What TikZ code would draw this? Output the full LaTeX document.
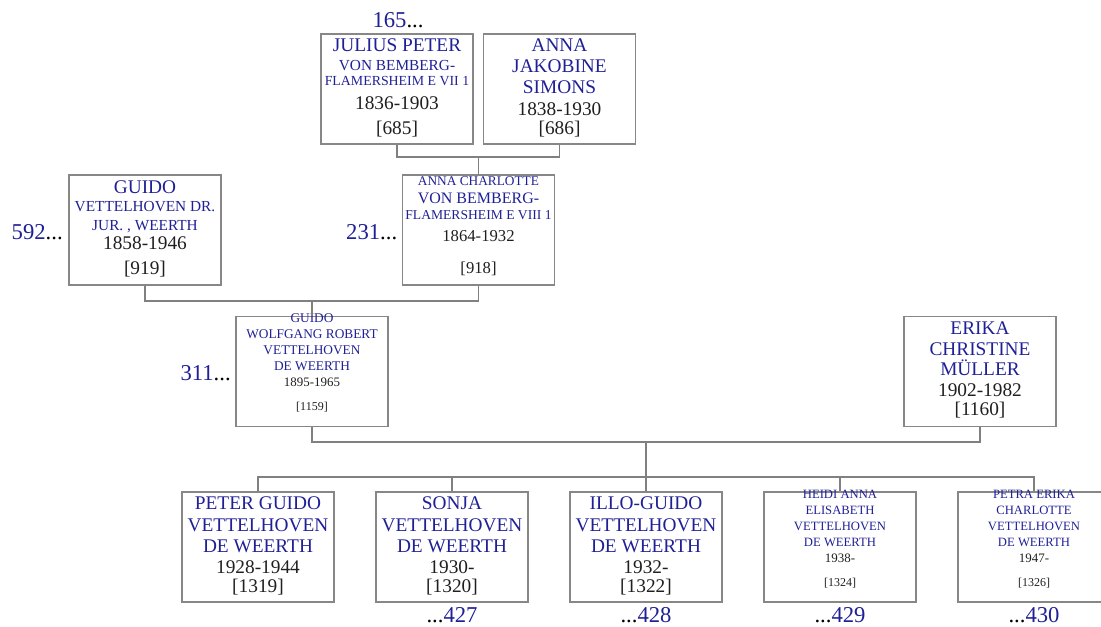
\documentclass[tikz,border=0pt]{standalone}
\usepackage{fontspec}
\setmainfont{Liberation Serif}
\definecolor{nameblue}{RGB}{32,32,150}
\definecolor{linegray}{RGB}{128,128,128}
\definecolor{boxgray}{RGB}{135,135,135}
\newcommand{\pname}[2]{{\color{nameblue}\fontsize{#1}{#1}\selectfont #2}}
\newcommand{\pdate}[2]{{\color{black!88}\fontsize{#1}{#1}\selectfont #2}}
\newcommand{\pnum}[1]{\textcolor{nameblue}{#1}}
\begin{document}
\begin{tikzpicture}[x=0.75pt,y=-0.75pt,
  pbox/.style={draw=boxgray,line width=0.9pt,minimum width=114pt,minimum height=82.5pt,inner sep=0pt},
  ptxt/.style={anchor=north,align=center,inner sep=0pt,font=\fontsize{10}{11.5}\selectfont},
  num/.style={inner sep=0pt,font=\fontsize{17}{17}\selectfont},
  link/.style={draw=linegray,line width=0.9pt}]
\path[use as bounding box,clip] (0,0) rectangle (1101,627);
% generation 1
\node[pbox] (jul) at (397,89) {};
\node[ptxt] (jul-t) at (397,38.6) {\pname{14.5}{JULIUS PETER}\\[2.5pt]
  \pname{11.5}{VON BEMBERG-}\\[0.2pt] \pname{10.4}{FLAMERSHEIM E VII 1}\\[6.4pt]
  \pdate{14.5}{1836-1903}\\[7.2pt] \pdate{14.5}{[685]}};
\node[pbox] (aj) at (559.5,89) {};
\node[ptxt] (aj-t) at (559.5,38.6) {\pname{14.5}{ANNA}\\[4.25pt] \pname{14.5}{JAKOBINE}\\[4.25pt]
  \pname{14.5}{SIMONS}\\[5.1pt] \pdate{14.5}{1838-1930}\\[2.75pt] \pdate{14.5}{[686]}};
\node[num,anchor=base] (n165) at (398,28) {\pnum{165}...};
% generation 2
\node[pbox] (gui) at (145,230) {};
\node[ptxt] (gui-t) at (145,180.6) {\pname{14.5}{GUIDO}\\[1.8pt] \pname{11.5}{VETTELHOVEN DR.}\\[2.75pt]
  \pname{11.5}{JUR. , WEERTH}\\[2.9pt] \pdate{14.5}{1858-1946}\\[7.25pt] \pdate{14.5}{[919]}};
\node[pbox] (ac) at (478.5,230) {};
\node[ptxt] (ac-t) at (478.5,176.6) {\pname{10}{ANNA CHARLOTTE}\\[1.9pt] \pname{12}{VON BEMBERG-}\\[0.7pt]
  \pname{10.2}{FLAMERSHEIM E VIII 1}\\[5.1pt] \pdate{12.5}{1864-1932}\\[12.5pt] \pdate{12.5}{[918]}};
\node[num,anchor=base east] (n592) at (63,240) {\pnum{592}...};
\node[num,anchor=base east] (n231) at (397.5,240) {\pnum{231}...};
% generation 3
\node[pbox] (gw) at (312,371.5) {};
\node[ptxt] (gw-t) at (312,313.6) {\pname{10}{GUIDO}\\[0.5pt] \pname{10}{WOLFGANG ROBERT}\\[0.5pt]
  \pname{10}{VETTELHOVEN}\\[0.5pt] \pname{10}{DE WEERTH}\\[0.5pt] \pdate{9.7}{1895-1965}\\[6.3pt] \pdate{9}{[1159]}};
\node[pbox] (eri) at (980,371.5) {};
\node[ptxt] (eri-t) at (980,321.6) {\pname{14.5}{ERIKA}\\[4.25pt] \pname{14.5}{CHRISTINE}\\[2.25pt]
  \pname{14.5}{MÜLLER}\\[4.3pt] \pdate{14.5}{1902-1982}\\[2.75pt] \pdate{14.5}{[1160]}};
\node[num,anchor=base east] (n311) at (231,380.7) {\pnum{311}...};
% children
\node[pbox] (pet) at (258,547) {};
\node[ptxt] (pet-t) at (258,496.6) {\pname{14.5}{PETER GUIDO}\\[5pt] \pname{14.5}{VETTELHOVEN}\\[4.25pt]
  \pname{14.5}{DE WEERTH}\\[4.3pt] \pdate{14.5}{1928-1944}\\[2.75pt] \pdate{14.5}{[1319]}};
\node[pbox] (son) at (452,547) {};
\node[ptxt] (son-t) at (452,496.6) {\pname{14.5}{SONJA}\\[5pt] \pname{14.5}{VETTELHOVEN}\\[4.25pt]
  \pname{14.5}{DE WEERTH}\\[4.3pt] \pdate{14.5}{1930-}\\[2.75pt] \pdate{14.5}{[1320]}};
\node[pbox] (ill) at (646,547) {};
\node[ptxt] (ill-t) at (646,496.6) {\pname{14.5}{ILLO-GUIDO}\\[5pt] \pname{14.5}{VETTELHOVEN}\\[4.25pt]
  \pname{14.5}{DE WEERTH}\\[4.3pt] \pdate{14.5}{1932-}\\[2.75pt] \pdate{14.5}{[1322]}};
\node[pbox] (hei) at (840,547) {};
\node[ptxt] (hei-t) at (840,489.8) {\pname{9.5}{HEIDI ANNA}\\[0.5pt] \pname{9.5}{ELISABETH}\\[0.5pt]
  \pname{9.5}{VETTELHOVEN}\\[0.5pt] \pname{9.5}{DE WEERTH}\\[0.6pt] \pdate{9.7}{1938-}\\[6.3pt] \pdate{9}{[1324]}};
\node[pbox] (ptr) at (1034,547) {};
\node[ptxt] (ptr-t) at (1034,489.8) {\pname{9.5}{PETRA ERIKA}\\[0.5pt] \pname{9.5}{CHARLOTTE}\\[0.5pt]
  \pname{9.5}{VETTELHOVEN}\\[0.5pt] \pname{9.5}{DE WEERTH}\\[0.6pt] \pdate{9.7}{1947-}\\[6.3pt] \pdate{9}{[1326]}};
\node[num,anchor=base] (n427) at (452,623) {...\pnum{427}};
\node[num,anchor=base] (n428) at (646,623) {...\pnum{428}};
\node[num,anchor=base] (n429) at (840,623) {...\pnum{429}};
\node[num,anchor=base] (n430) at (1034,623) {...\pnum{430}};
% connectors
\coordinate (c1) at (478.5,157);
\coordinate (c2) at (312,301);
\coordinate (c3) at (646,442);
\coordinate (c4) at (646,477);
\draw[link] (jul.south) |- (c1) -| (aj.south);
\draw[link] (c1) -- (ac.north);
\draw[link] (gui.south) |- (c2) -| (ac.south);
\draw[link] (c2) -- (gw.north);
\draw[link] (gw.south) |- (c3) -| (eri.south);
\draw[link] (c3) -- (ill.north);
\foreach \k in {pet,son,hei,ptr}
  \draw[link] (c4) -| (\k.north);
\end{tikzpicture}
\end{document}
